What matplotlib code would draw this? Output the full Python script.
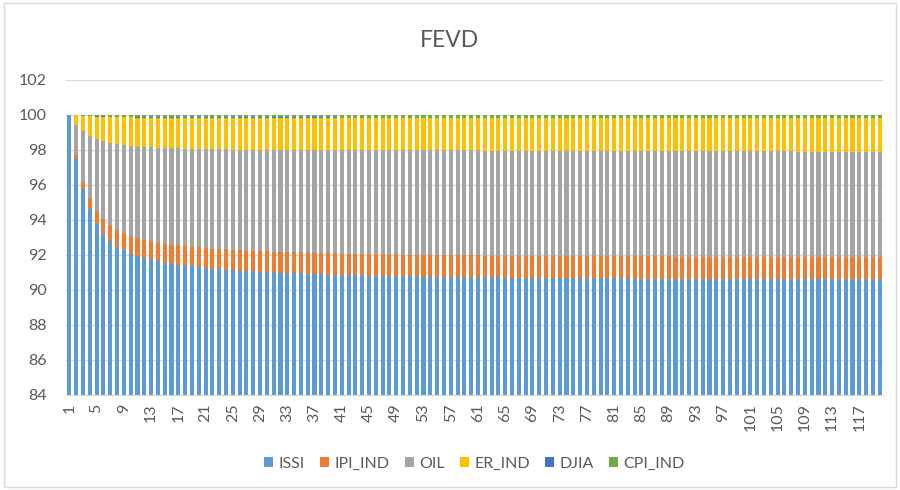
import matplotlib.pyplot as plt
from matplotlib.patches import Rectangle
import numpy as np

periods = list(range(1, 121))

issi = [100.00, 97.49, 95.77, 94.63, 93.75, 93.20, 92.82, 92.48, 92.27, 92.10,
        91.96, 91.83, 91.74, 91.64, 91.56, 91.50, 91.45, 91.39, 91.35, 91.30,
        91.26, 91.22, 91.19, 91.16, 91.13, 91.10, 91.08, 91.06, 91.04, 91.02,
        91.00, 90.98, 90.97, 90.95, 90.94, 90.92, 90.91, 90.90, 90.88, 90.87,
        90.86, 90.85, 90.84, 90.83, 90.82, 90.81, 90.80, 90.79, 90.79, 90.78,
        90.77, 90.77, 90.76, 90.75, 90.75, 90.74, 90.74, 90.73, 90.73, 90.72,
        90.72, 90.71, 90.71, 90.71, 90.70, 90.70, 90.70, 90.69, 90.69, 90.69,
        90.68, 90.68, 90.68, 90.68, 90.67, 90.67, 90.67, 90.67, 90.66, 90.66,
        90.66, 90.66, 90.66, 90.65, 90.65, 90.65, 90.65, 90.65, 90.65, 90.64,
        90.64, 90.64, 90.64, 90.64, 90.64, 90.64, 90.64, 90.63, 90.63, 90.63,
        90.63, 90.63, 90.63, 90.63, 90.63, 90.63, 90.63, 90.62, 90.62, 90.62,
        90.62, 90.62, 90.62, 90.62, 90.62, 90.62, 90.62, 90.62, 90.62, 90.62]

ipi_ind = [0.00, 0.19, 0.42, 0.56, 0.74, 0.83, 0.89, 0.94, 0.97, 1.00,
           1.02, 1.04, 1.05, 1.06, 1.08, 1.09, 1.10, 1.11, 1.12, 1.13,
           1.14, 1.14, 1.15, 1.16, 1.16, 1.17, 1.17, 1.18, 1.18, 1.19,
           1.19, 1.20, 1.20, 1.20, 1.21, 1.21, 1.21, 1.22, 1.22, 1.22,
           1.22, 1.22, 1.23, 1.23, 1.23, 1.23, 1.23, 1.23, 1.24, 1.24,
           1.24, 1.24, 1.24, 1.24, 1.24, 1.24, 1.24, 1.25, 1.25, 1.25,
           1.25, 1.25, 1.25, 1.25, 1.25, 1.25, 1.25, 1.25, 1.25, 1.25,
           1.25, 1.25, 1.25, 1.25, 1.25, 1.25, 1.25, 1.25, 1.25, 1.25,
           1.26, 1.26, 1.26, 1.26, 1.26, 1.26, 1.26, 1.26, 1.26, 1.26,
           1.26, 1.26, 1.26, 1.26, 1.26, 1.26, 1.26, 1.26, 1.26, 1.26,
           1.26, 1.26, 1.26, 1.26, 1.26, 1.26, 1.26, 1.26, 1.26, 1.26,
           1.26, 1.26, 1.26, 1.26, 1.26, 1.26, 1.26, 1.26, 1.26, 1.26]

oil = [0.00, 1.75, 2.90, 3.61, 4.14, 4.45, 4.71, 4.90, 5.03, 5.13,
       5.21, 5.28, 5.35, 5.42, 5.47, 5.51, 5.53, 5.57, 5.59, 5.62,
       5.64, 5.67, 5.69, 5.71, 5.73, 5.75, 5.76, 5.78, 5.79, 5.80,
       5.82, 5.83, 5.84, 5.85, 5.86, 5.87, 5.88, 5.89, 5.90, 5.91,
       5.92, 5.92, 5.93, 5.94, 5.94, 5.95, 5.95, 5.96, 5.96, 5.97,
       5.97, 5.97, 5.98, 5.98, 5.98, 5.99, 5.99, 5.99, 5.99, 6.00,
       6.00, 6.00, 6.00, 6.00, 6.00, 6.00, 6.00, 6.00, 6.00, 6.00,
       6.00, 6.00, 6.00, 6.00, 6.01, 6.01, 6.01, 6.01, 6.01, 6.01,
       6.01, 6.01, 6.01, 6.01, 6.01, 6.01, 6.01, 6.01, 6.01, 6.01,
       6.01, 6.01, 6.01, 6.01, 6.02, 6.02, 6.02, 6.02, 6.02, 6.02,
       6.02, 6.02, 6.02, 6.02, 6.02, 6.02, 6.02, 6.02, 6.02, 6.02,
       6.02, 6.02, 6.02, 6.02, 6.02, 6.02, 6.02, 6.02, 6.02, 6.02]

er_ind = [0.00, 0.54, 0.86, 1.12, 1.27, 1.41, 1.46, 1.55, 1.59, 1.63,
          1.66, 1.70, 1.71, 1.73, 1.74, 1.75, 1.77, 1.78, 1.79, 1.80,
          1.80, 1.81, 1.81, 1.81, 1.82, 1.82, 1.83, 1.82, 1.83, 1.83,
          1.83, 1.83, 1.83, 1.84, 1.83, 1.84, 1.84, 1.83, 1.84, 1.84,
          1.83, 1.84, 1.83, 1.83, 1.84, 1.84, 1.85, 1.85, 1.84, 1.84,
          1.85, 1.85, 1.85, 1.86, 1.86, 1.86, 1.86, 1.86, 1.86, 1.86,
          1.86, 1.87, 1.87, 1.87, 1.88, 1.88, 1.88, 1.89, 1.89, 1.89,
          1.90, 1.90, 1.90, 1.90, 1.90, 1.90, 1.90, 1.90, 1.91, 1.91,
          1.89, 1.89, 1.89, 1.90, 1.90, 1.90, 1.90, 1.90, 1.90, 1.91,
          1.91, 1.91, 1.91, 1.91, 1.90, 1.90, 1.90, 1.91, 1.91, 1.91,
          1.91, 1.91, 1.91, 1.91, 1.91, 1.91, 1.91, 1.92, 1.92, 1.92,
          1.92, 1.92, 1.92, 1.92, 1.92, 1.92, 1.92, 1.92, 1.92, 1.92]

djia = [0.00, 0.01, 0.01] + [0.02] * 117

cpi_ind = ([0.00, 0.02, 0.04, 0.06, 0.08, 0.09, 0.10, 0.11, 0.12, 0.12]
           + [0.13] * 10 + [0.14] * 20 + [0.15] * 40 + [0.16] * 40)

series = [("ISSI", issi, "#5B9BD5"),
          ("IPI_IND", ipi_ind, "#ED7D31"),
          ("OIL", oil, "#A5A5A5"),
          ("ER_IND", er_ind, "#FFC000"),
          ("DJIA", djia, "#4472C4"),
          ("CPI_IND", cpi_ind, "#70AD47")]

plt.rcParams['font.family'] = ['Lato', 'DejaVu Sans']

fig = plt.figure(figsize=(9, 4.9), dpi=100)
ax = fig.add_axes([0.0733, 0.194, 0.908, 0.643])

bottom = np.zeros(len(periods))
for name, vals, color in series:
    ax.bar(periods, vals, width=0.6, bottom=bottom, color=color, label=name, zorder=2)
    bottom += np.array(vals)

ax.set_ylim(84, 102)
ax.set_yticks(range(84, 103, 2))
ax.set_xlim(0.5, 120.5)
ax.set_xticks(periods[::4])
ax.set_xticklabels([str(p) for p in periods[::4]], rotation=90)
ax.tick_params(axis='both', length=0, labelsize=11.5, colors='#595959')
ax.tick_params(axis='y', pad=14)
ax.tick_params(axis='x', pad=6)
ax.grid(axis='y', color='#D9D9D9', linewidth=1, zorder=0)
for side in ['top', 'right', 'left']:
    ax.spines[side].set_visible(False)
ax.spines['bottom'].set_color('#D9D9D9')

fig.text(0.5, 0.918, "FEVD", ha='center', va='center', fontsize=16.5, color='#595959')

ax.legend(loc='upper center', bbox_to_anchor=(0.5, -0.15), ncol=6, frameon=False,
          fontsize=11.5, labelcolor='#595959', handlelength=0.55, handleheight=0.55,
          handletextpad=0.35, columnspacing=0.95)

fig.patches.append(Rectangle((0.004, 0.006), 0.992, 0.988, transform=fig.transFigure,
                             fill=False, edgecolor='#D9D9D9', linewidth=1))

fig.savefig("out.png", dpi=100)
